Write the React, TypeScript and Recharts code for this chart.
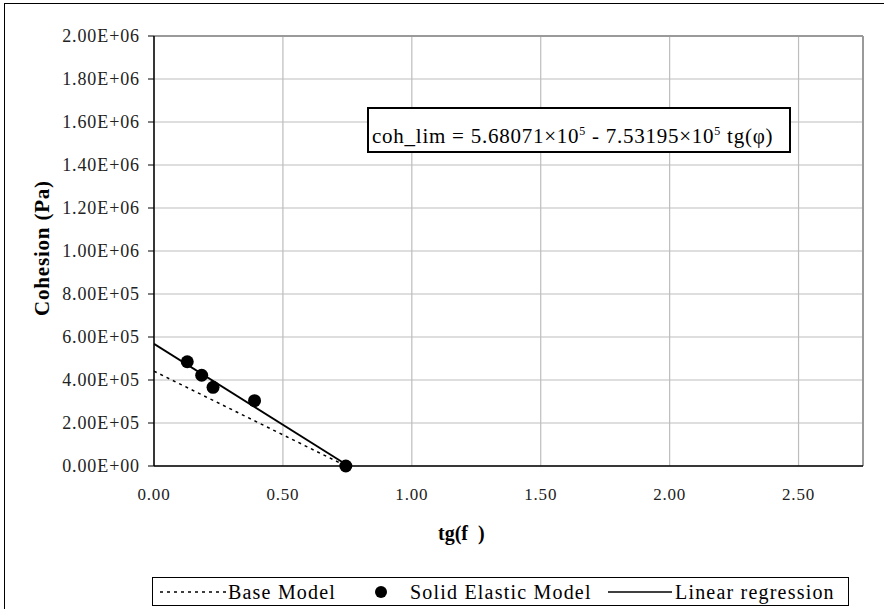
import { ComposedChart, Line, Scatter, XAxis, YAxis, CartesianGrid, ReferenceLine } from 'recharts'

// tg(phi) vs cohesion
const solidTg = [0.129, 0.185, 0.229, 0.39, 0.744]
const solidCoh = [4.85e5, 4.22e5, 3.66e5, 3.04e5, 0]

const baseTg = [0, 0.745]
const baseCoh = [4.41e5, 0]

const regTg = [0, 0.75]
const regCoh = [5.68e5, 3.2e3]

const xTicks = [0, 0.5, 1, 1.5, 2, 2.5]
const yTicks = [0, 2e5, 4e5, 6e5, 8e5, 1e6, 1.2e6, 1.4e6, 1.6e6, 1.8e6, 2e6]

const solid = solidTg.map((x, i) => ({ x, y: solidCoh[i] }))
const base = baseTg.map((x, i) => ({ x, y: baseCoh[i] }))
const reg = regTg.map((x, i) => ({ x, y: regCoh[i] }))

const font = 'Liberation Serif, DejaVu Serif, serif'

function sci(v: number): string {
  const [m, e] = v.toExponential(2).split('e')
  const n = Number(e)
  return `${m}E${n < 0 ? '-' : '+'}${String(Math.abs(n)).padStart(2, '0')}`
}

// custom ticks so the font size/spacing actually sticks
const YTick = ({ x, y, payload }: any) => (
  <text x={x} y={y} dy={5.5} textAnchor="end" fontSize={18} fontFamily={font} fill="#222" letterSpacing={0.9}>
    {sci(payload.value)}
  </text>
)

const XTick = ({ x, y, payload }: any) => (
  <text x={x} y={y} dy={12} textAnchor="middle" fontSize={17} fontFamily={font} fill="#222" letterSpacing={0.8}>
    {Number(payload.value).toFixed(2)}
  </text>
)

const legendText: React.CSSProperties = {
  position: 'absolute', top: 1, fontSize: 20, letterSpacing: 1.2, lineHeight: '26px', whiteSpace: 'nowrap',
}

export default function App() {
  return (
    <div style={{ position: 'absolute', left: 0, top: 0, width: 884, height: 609, overflow: 'hidden', background: '#fff', fontFamily: font }}>
      {/* outer chart border, only top/left fall inside the frame */}
      <div style={{ position: 'absolute', left: 4, top: 3, width: 900, height: 700, border: '1.5px solid #000' }} />

      <ComposedChart
        width={884}
        height={609}
        margin={{ top: 36, right: 21, left: 0, bottom: 0 }}
        style={{ position: 'absolute', left: 0, top: 0 }}
      >
        <CartesianGrid stroke="#bdbdbd" strokeWidth={1.2} />
        <XAxis
          type="number"
          dataKey="x"
          domain={[0, 2.75]}
          ticks={xTicks}
          tick={<XTick />}
          tickLine={false}
          axisLine={{ stroke: '#000', strokeWidth: 1.5 }}
          tickMargin={16}
          height={143}
          allowDataOverflow
        />
        <YAxis
          type="number"
          dataKey="y"
          domain={[0, 2e6]}
          ticks={yTicks}
          tick={<YTick />}
          tickSize={6}
          tickLine={{ stroke: '#000' }}
          axisLine={{ stroke: '#000', strokeWidth: 1.5 }}
          tickMargin={8}
          width={154}
        />
        <ReferenceLine x={2.75} stroke="#9a9a9a" strokeWidth={2} />
        <ReferenceLine y={2e6} stroke="#9a9a9a" strokeWidth={2} />
        <Line
          data={base}
          dataKey="y"
          stroke="#000"
          strokeWidth={1.5}
          strokeDasharray="3 4"
          dot={false}
          activeDot={false}
          isAnimationActive={false}
        />
        <Line
          data={reg}
          dataKey="y"
          stroke="#000"
          strokeWidth={1.8}
          dot={false}
          activeDot={false}
          isAnimationActive={false}
        />
        <Scatter
          data={solid}
          dataKey="y"
          fill="#000"
          shape={(p: any) => <circle cx={p.cx} cy={p.cy} r={6.5} fill="#000" />}
          isAnimationActive={false}
        />
      </ComposedChart>

      {/* y title */}
      <div
        style={{
          position: 'absolute', left: 42, top: 248, transform: 'translate(-50%, -50%) rotate(-90deg)',
          fontWeight: 'bold', fontSize: 21, letterSpacing: 0.8, whiteSpace: 'nowrap', color: '#000',
        }}
      >
        Cohesion (Pa)
      </div>

      {/* x title */}
      <div style={{ position: 'absolute', left: 438, top: 522, fontWeight: 'bold', fontSize: 20, color: '#000' }}>
        tg(f&nbsp;&nbsp;)
      </div>

      {/* equation box */}
      <div
        style={{
          position: 'absolute', left: 367, top: 107, width: 417, height: 42, border: '2.5px solid #000',
          background: '#fff', fontSize: 21, letterSpacing: 0.75, lineHeight: '44px', paddingLeft: 3,
          whiteSpace: 'nowrap', color: '#000', boxSizing: 'content-box',
        }}
      >
        coh_lim = 5.68071×10<sup style={{ fontSize: 12 }}>5</sup> - 7.53195×10<sup style={{ fontSize: 12 }}>5</sup> tg(φ)
      </div>

      {/* legend */}
      <div
        style={{
          position: 'absolute', left: 152, top: 577, width: 695, height: 27, border: '1px solid #000', color: '#000',
        }}
      >
        <svg width={70} height={28} style={{ position: 'absolute', left: 6, top: 0 }}>
          <line x1={1} y1={14} x2={68} y2={14} stroke="#000" strokeWidth={1.5} strokeDasharray="3 4" />
        </svg>
        <span style={{ ...legendText, left: 75 }}>Base Model</span>
        <svg width={20} height={28} style={{ position: 'absolute', left: 218, top: 0 }}>
          <circle cx={10} cy={14} r={6} fill="#000" />
        </svg>
        <span style={{ ...legendText, left: 257 }}>Solid Elastic Model</span>
        <svg width={66} height={28} style={{ position: 'absolute', left: 455, top: 0 }}>
          <line x1={0} y1={14} x2={64} y2={14} stroke="#000" strokeWidth={1.5} />
        </svg>
        <span style={{ ...legendText, left: 522 }}>Linear regression</span>
      </div>
    </div>
  )
}
